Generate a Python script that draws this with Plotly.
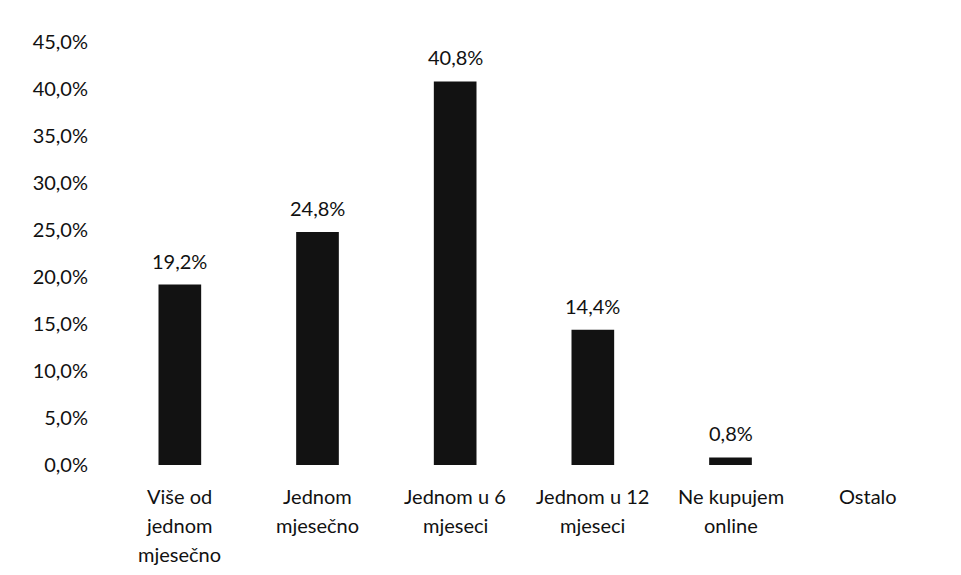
import plotly.graph_objects as go

categories = ["Više od jednom mjesečno", "Jednom mjesečno", "Jednom u 6 mjeseci",
              "Jednom u 12 mjeseci", "Ne kupujem online", "Ostalo"]
category_lines = [["Više od", "jednom", "mjesečno"], ["Jednom", "mjesečno"],
                  ["Jednom u 6", "mjeseci"], ["Jednom u 12", "mjeseci"],
                  ["Ne kupujem", "online"], ["Ostalo"]]
values = [0.192, 0.248, 0.408, 0.144, 0.008, None]
labels = ["19,2%", "24,8%", "40,8%", "14,4%", "0,8%", ""]
yticks = [0, 0.05, 0.10, 0.15, 0.20, 0.25, 0.30, 0.35, 0.40, 0.45]

font = "Lato, 'Open Sans', sans-serif"
fs = 20

fig = go.Figure(go.Bar(
    x=categories, y=values,
    marker=dict(color="#121212", line=dict(width=0)), width=0.31,
    hoverinfo="skip",
))

for c, v, t in zip(categories, values, labels):
    if v is not None and t:
        fig.add_annotation(x=c, y=v, text=t, showarrow=False, yanchor="bottom",
                           yshift=10, font=dict(size=fs, color="#111"))

for c, lines in zip(categories, category_lines):
    for i, line in enumerate(lines):
        fig.add_annotation(x=c, xref="x", y=0, yref="paper", text=line, showarrow=False,
                           yanchor="middle", yshift=-(31 + 29 * i),
                           font=dict(size=fs, color="#111"))

fig.update_layout(
    width=961, height=575, separators=",.",
    margin=dict(l=103, r=32, t=34, b=118),
    plot_bgcolor="white", paper_bgcolor="white",
    font=dict(family=font, size=fs, color="#111"),
    showlegend=False,
    xaxis=dict(showgrid=False, showline=False, ticks="", showticklabels=False),
    yaxis=dict(range=[0, 0.45], tickvals=yticks, tickformat=".1%", showgrid=False,
               zeroline=False, showline=False, ticks="", tickfont=dict(size=fs),
               ticklabelstandoff=22),
)

fig.write_html("out.html")
